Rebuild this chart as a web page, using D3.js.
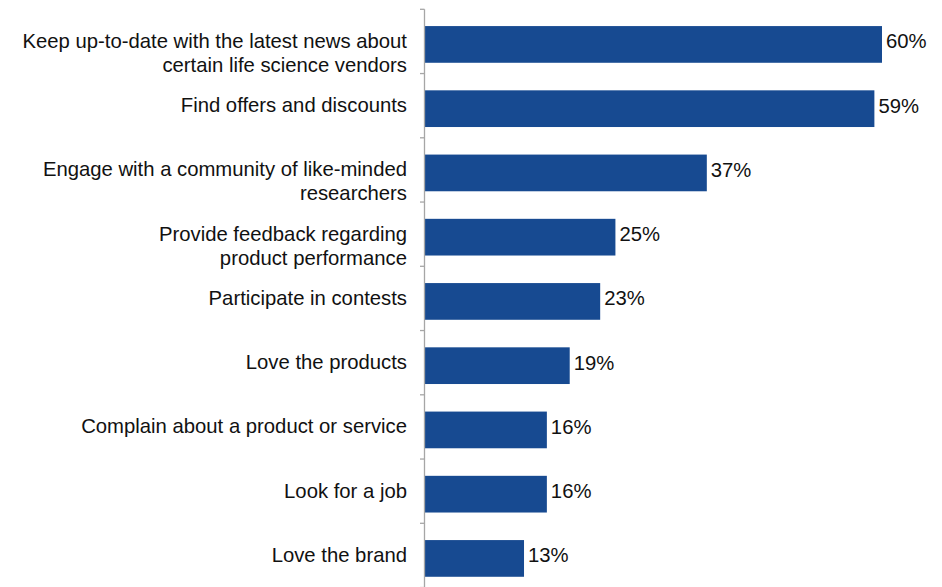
<!DOCTYPE html>
<html>
<head>
<meta charset="utf-8">
<script src="https://cdn.jsdelivr.net/npm/d3@7/dist/d3.min.js"></script>
<style>
  html, body { margin: 0; padding: 0; background: #fff; }
  svg { display: block; }
  text { font-family: "Liberation Sans", Arial, Helvetica, sans-serif; font-size: 20.3px; fill: #111; }
</style>
</head>
<body>
<svg id="chart" width="942" height="587"></svg>
<script>
// Reasons for following life science vendors, share of respondents (%)
const categories = [
  "Keep up-to-date with the latest news about certain life science vendors",
  "Find offers and discounts",
  "Engage with a community of like-minded researchers",
  "Provide feedback regarding product performance",
  "Participate in contests",
  "Love the products",
  "Complain about a product or service",
  "Look for a job",
  "Love the brand"
];
// Label lines as they wrap on the axis
const labelLines = [
  ["Keep up-to-date with the latest news about", "certain life science vendors"],
  ["Find offers and discounts"],
  ["Engage with a community of like-minded", "researchers"],
  ["Provide feedback regarding", "product performance"],
  ["Participate in contests"],
  ["Love the products"],
  ["Complain about a product or service"],
  ["Look for a job"],
  ["Love the brand"]
];
const values = [60, 59, 37, 25, 23, 19, 16, 16, 13];

const svg = d3.select("#chart");
const axisX = 424.5;
const barColor = "#174A91";

const x = d3.scaleLinear().domain([0, 60]).range([axisX + 0.5, 882]);
const y = d3.scaleBand().domain(categories).range([9.3, 9.3 + 64.25 * categories.length]).padding(0);
const step = y.step();
const barH = 36.7;
const barOffset = (step - barH) / 2 + 3;

// Bars
svg.append("g").selectAll("rect")
  .data(categories)
  .join("rect")
  .attr("x", x(0))
  .attr("y", d => y(d) + barOffset)
  .attr("width", (d, i) => x(values[i]) - x(0))
  .attr("height", barH)
  .attr("fill", barColor);

// Category axis: vertical line with tick marks at band boundaries
const axis = svg.append("g");
const yEnd = y.range()[1];
axis.append("line")
  .attr("x1", axisX).attr("x2", axisX)
  .attr("y1", y.range()[0]).attr("y2", yEnd)
  .attr("stroke", "#a6a6a6").attr("stroke-width", 1.3);
const tickYs = categories.map(c => y(c)).concat([yEnd]);
axis.selectAll("line.tick")
  .data(tickYs)
  .join("line")
  .attr("class", "tick")
  .attr("x1", axisX - 4.5).attr("x2", axisX)
  .attr("y1", d => d).attr("y2", d => d)
  .attr("stroke", "#a6a6a6").attr("stroke-width", 1.3);

// Category labels
const labels = svg.append("g");
categories.forEach((c, i) => {
  const t = labels.append("text")
    .attr("text-anchor", "end")
    .attr("x", 407)
    .attr("y", y(c) + step / 2 + 6.5);
  labelLines[i].forEach((line, k) => {
    t.append("tspan")
      .attr("x", 407)
      .attr("dy", k === 0 ? 0 : 24)
      .text(line);
  });
});

// Value labels
svg.append("g").selectAll("text")
  .data(categories)
  .join("text")
  .attr("x", (d, i) => x(values[i]) + 4)
  .attr("y", d => y(d) + step / 2 + 7)
  .text((d, i) => values[i] + "%");
</script>
</body>
</html>
